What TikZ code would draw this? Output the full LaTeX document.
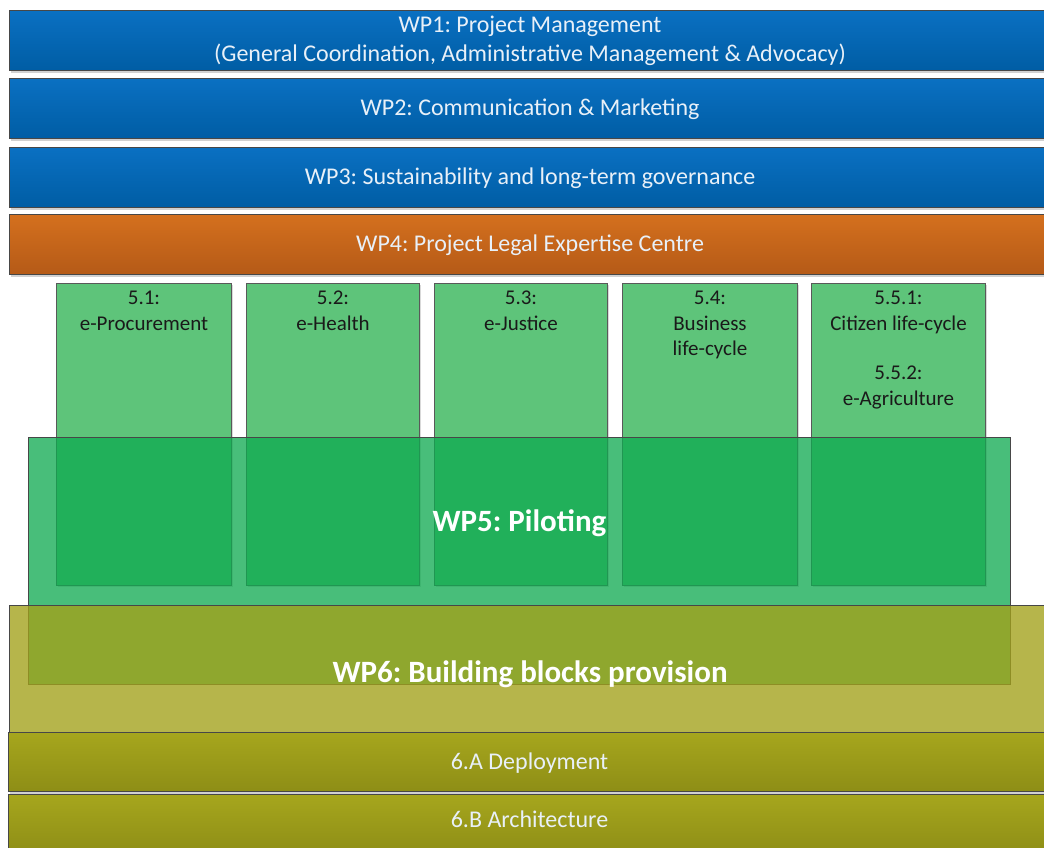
\documentclass[tikz,border=0pt]{standalone}
\usepackage{fontspec}
\setmainfont{Carlito}
\usetikzlibrary{shadows}
\frenchspacing

\definecolor{wpbluetop}{HTML}{0A70C2}
\definecolor{wpbluebot}{HTML}{005DA4}
\definecolor{wporangetop}{HTML}{D4701E}
\definecolor{wporangebot}{HTML}{B55A17}
\definecolor{wpgreen}{HTML}{5EC47A}
\definecolor{wppilot}{RGB}{15,170,80}
\definecolor{wpblocks}{RGB}{162,161,27}
\definecolor{wpolivetop}{HTML}{A6A61D}
\definecolor{wpolivebot}{HTML}{8E8E16}
\definecolor{bartext}{HTML}{E8F0F8}
\definecolor{subtext}{HTML}{1A1A1A}

\tikzset{
  bar/.style={draw=black!72, line width=1pt, minimum width=1041pt, minimum height=60pt,
    anchor=north west, inner sep=0pt, align=center, text=bartext,
    font=\fontsize{24}{29}\selectfont,
    drop shadow={shadow xshift=1.5pt, shadow yshift=-2pt, opacity=0.3, fill=black!60}},
  oneline/.style={text height=19.4pt, text depth=5pt},
  bluebar/.style={bar, top color=wpbluetop, bottom color=wpbluebot},
  orangebar/.style={bar, top color=wporangetop, bottom color=wporangebot},
  olivebar/.style={bar, top color=wpolivetop, bottom color=wpolivebot},
  pilotbox/.style={draw=black!65, line width=1pt, fill=wpgreen, anchor=north west,
    minimum height=302pt, inner sep=0pt,
    drop shadow={shadow xshift=1.5pt, shadow yshift=-1.5pt, opacity=0.25, fill=black!60}},
  pilottext/.style={anchor=north, inner sep=0pt, align=center, text=subtext,
    font=\fontsize{21}{25.5}\selectfont},
  bigbox/.style={draw=black!72, line width=1pt, anchor=north west, inner sep=0pt},
  bigtext/.style={text=white, font=\fontsize{31}{36}\selectfont\bfseries, inner sep=0pt}
}

\begin{document}
\begin{tikzpicture}[x=1pt, y=-1pt]
		%%%%% START %%%%%
		\useasboundingbox (0, 0) rectangle (1044, 847);
		\clip (0, 0) rectangle (1044, 847);
		
		% top work packages
		\node[bluebar] (wp1) at (9, 10) {WP1: Project Management\\(General Coordination, Administrative Management \& Advocacy)};
		\node[bluebar, oneline] (wp2) at (9, 78) {WP2: Communication \& Marketing};
		\node[bluebar, oneline] (wp3) at (9, 147) {WP3: Sustainability and long-term governance};
		\node[orangebar, oneline] (wp4) at (9, 214) {WP4: Project Legal Expertise Centre};
		
		% pilots
		\node[pilotbox, minimum width=175pt] (p1) at (56, 283) {};
		\node[pilotbox, minimum width=173pt] (p2) at (246, 283) {};
		\node[pilotbox, minimum width=173pt] (p3) at (434, 283) {};
		\node[pilotbox, minimum width=175pt] (p4) at (622, 283) {};
		\node[pilotbox, minimum width=174pt] (p5) at (811, 283) {};
		
		\node[pilottext] (p1txt) at ([yshift=-8pt]p1.north) {5.1:\\e-Procurement};
		\node[pilottext] (p2txt) at ([yshift=-8pt]p2.north) {5.2:\\e-Health};
		\node[pilottext] (p3txt) at ([yshift=-8pt]p3.north) {5.3:\\e-Justice};
		\node[pilottext] (p4txt) at ([yshift=-8pt]p4.north) {5.4:\\Business\\life-cycle};
		\node[pilottext] (p5txt) at ([yshift=-8pt]p5.north) {5.5.1:\\Citizen life-cycle\\[24pt]5.5.2:\\e-Agriculture};
		
		\node[bigbox, fill=wppilot, fill opacity=0.76, minimum width=982pt, minimum height=247pt] (wp5) at (28, 437) {};
		
		% building blocks
		\node[bigbox, fill=wpblocks, fill opacity=0.79, minimum width=1041pt, minimum height=127pt] (wp6) at (9, 605) {};
		
		\node[bigtext] (wp5txt) at ([yshift=38pt]wp5.center) {WP5: Piloting};
		\node[bigtext] (wp6txt) at ([yshift=-5pt]wp6.center) {WP6: Building blocks provision};
		
		\node[olivebar, oneline, minimum width=1042pt, minimum height=59pt] (wp6a) at (8, 732) {6.A Deployment};
		\node[olivebar, text height=12.4pt, text depth=5pt, minimum width=1042pt, minimum height=59pt] (wp6b) at (8, 794) {6.B Architecture};
		
		%%%%% END %%%%%
	\end{tikzpicture}
\end{document}
